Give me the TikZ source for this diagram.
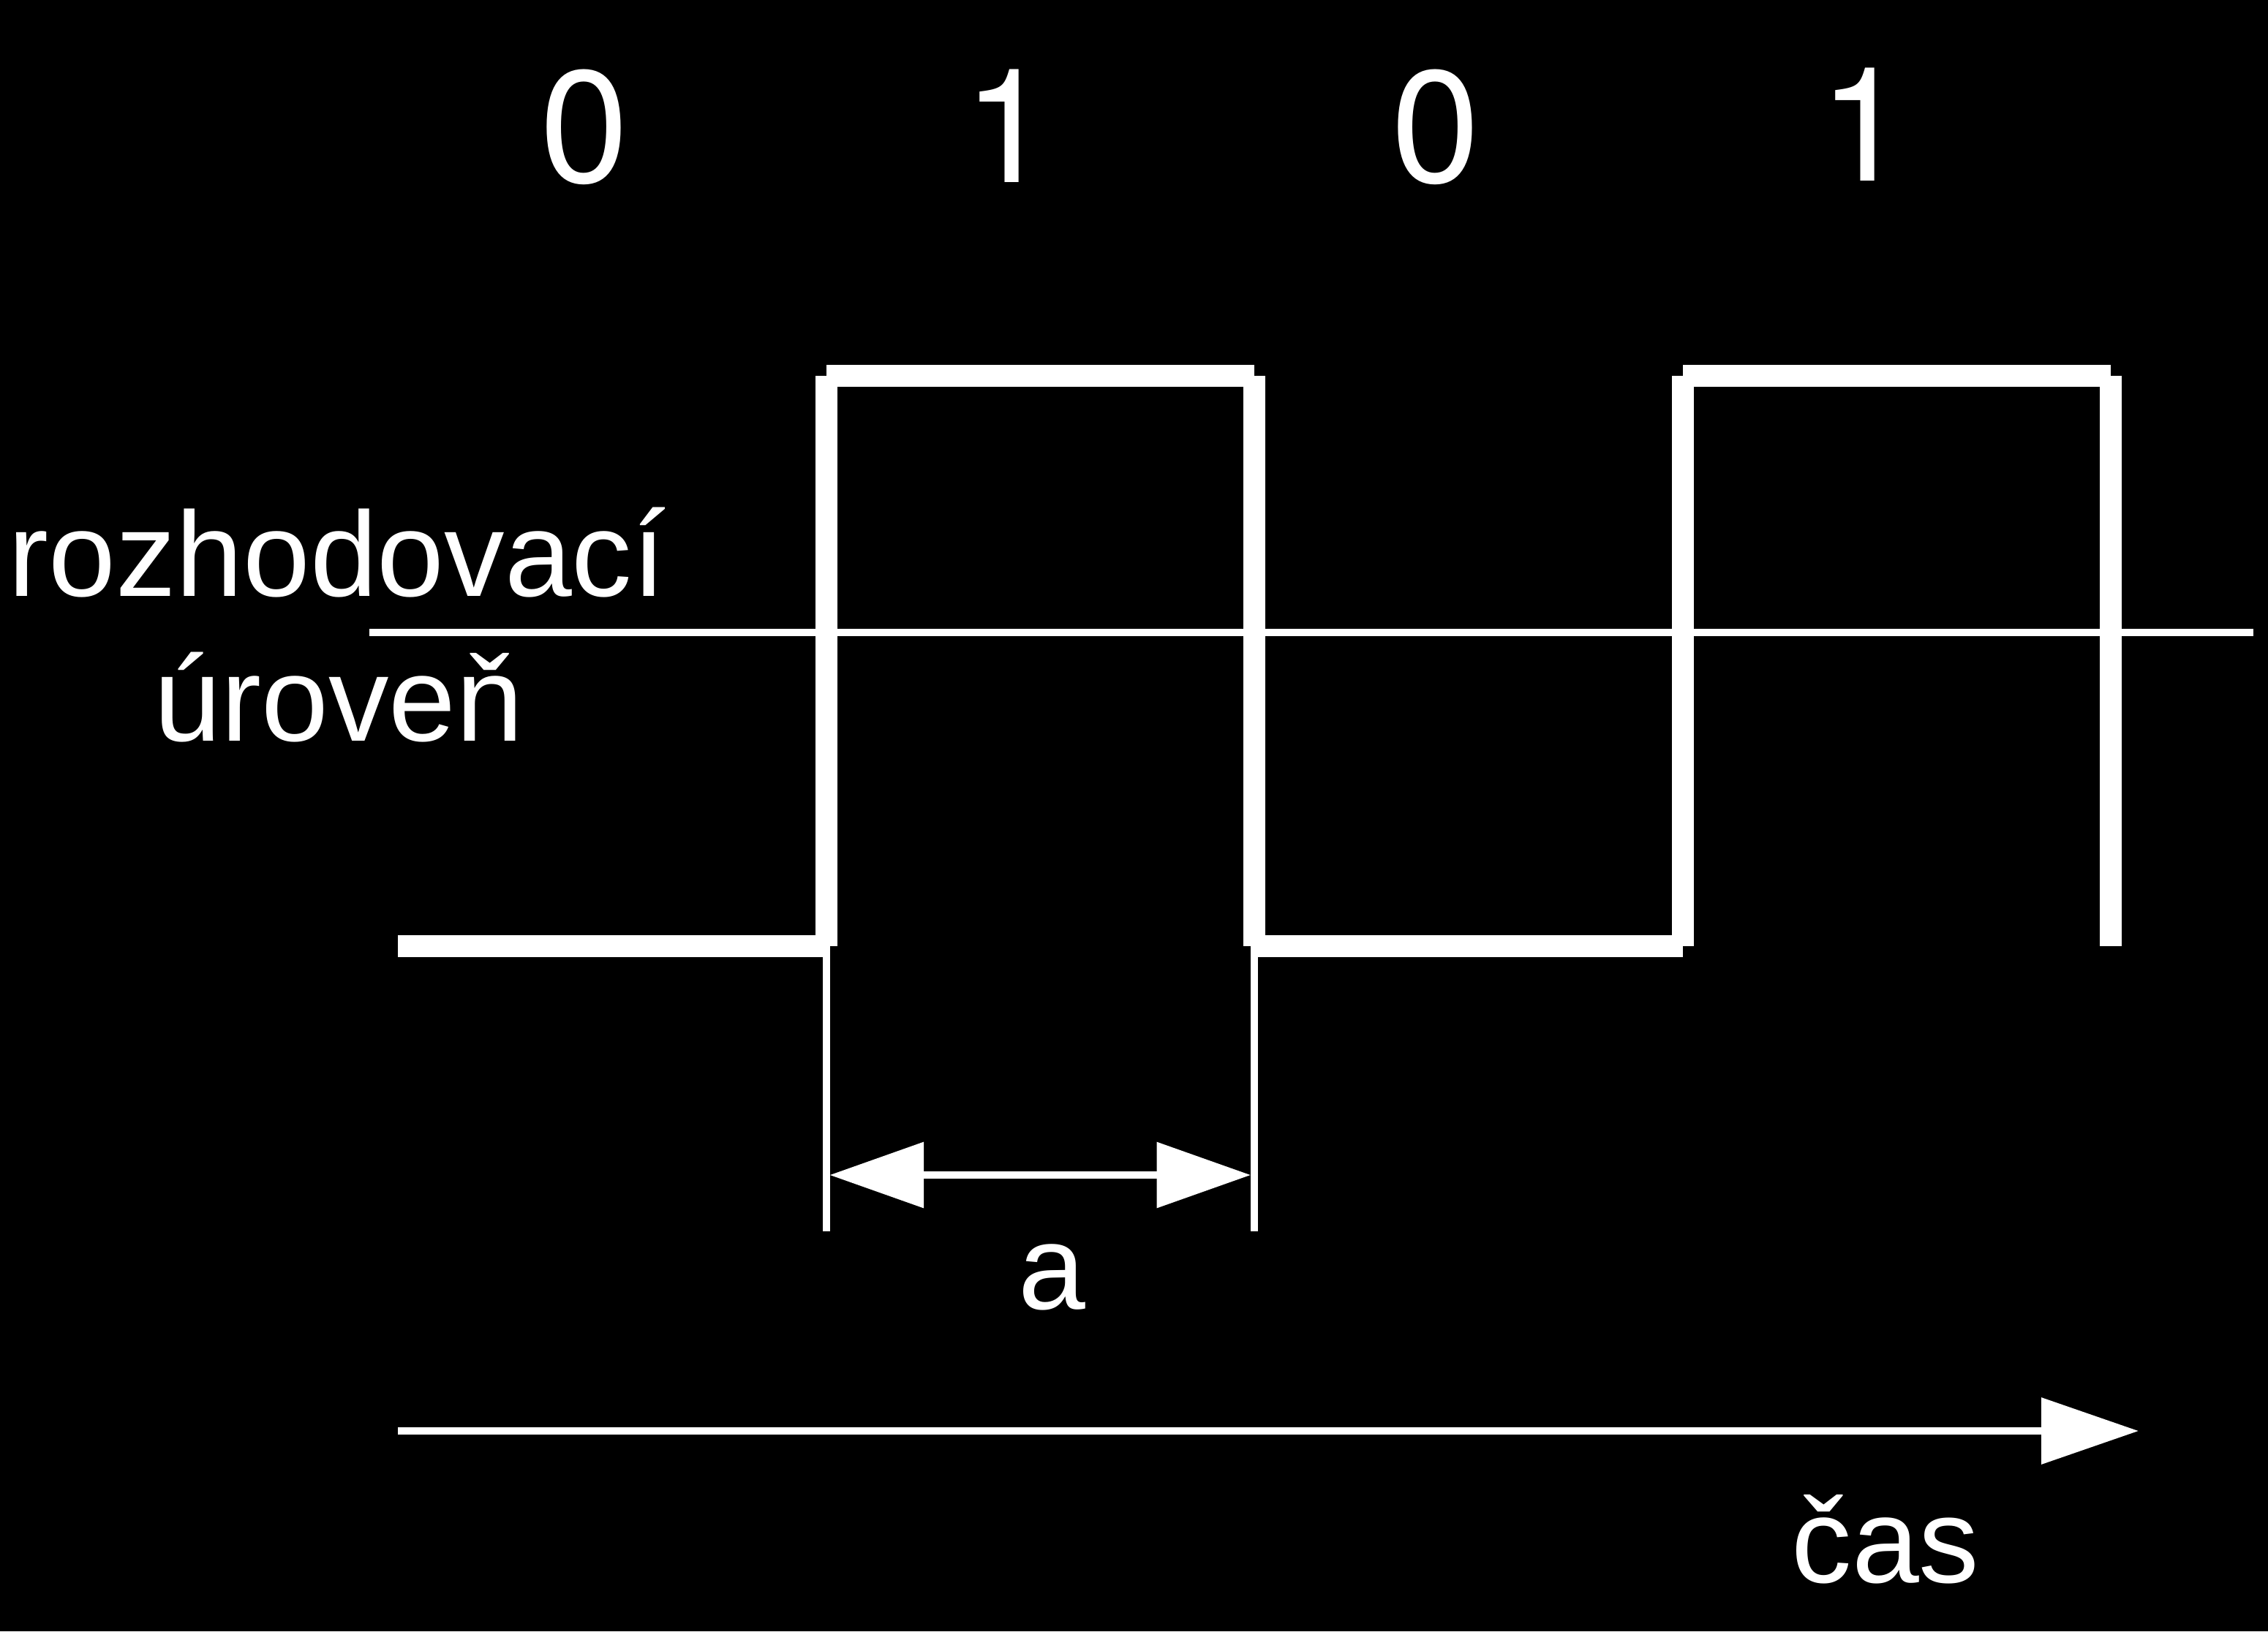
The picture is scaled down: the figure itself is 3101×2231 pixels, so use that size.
\documentclass[tikz,border=0pt]{standalone}
\usepackage{fontspec}
\setmainfont{Liberation Sans}
\newfontfamily\digitfont{TeX Gyre Heros}
\usetikzlibrary{arrows.meta}
\tikzset{
  wave/.style={draw=white, line width=3pt, line cap=butt},
  thin/.style={draw=white, line width=1pt, line cap=butt},
  bigtxt/.style={text=white, inner sep=0pt, anchor=base, font=\digitfont\fontsize{21.8}{26}\selectfont},
  txt/.style={text=white, inner sep=0pt, anchor=base, font=\fontsize{16.5}{19.8}\selectfont},
}
\begin{document}
\begin{tikzpicture}[x=0.1pt,y=-0.1pt]
\fill[black] (0,0) rectangle (3101,2231);
\useasboundingbox (0,0) rectangle (3101,2231);
% bit labels
\node[bigtxt] (b1) at (799,249) {0};
\node[bigtxt] (b2) at (1378,249) {1};
\node[bigtxt] (b3) at (1963,249) {0};
\node[bigtxt] (b4) at (2548,247) {1};
% decision level
\coordinate (lv1) at (505,865);
\coordinate (lv2) at (3081,865);
\draw[thin] (lv1) -- (lv2);
\node[txt] (lvA) at (461,815) {rozhodovací};
\node[txt] (lvB) at (463,1013) {úroveň};
% waveform
\coordinate (w0) at (544,1294);
\coordinate (r1b) at (1130,1294);
\coordinate (r1t) at (1130,514);
\coordinate (f1t) at (1715,514);
\coordinate (f1b) at (1715,1294);
\coordinate (r2b) at (2301,1294);
\coordinate (r2t) at (2301,514);
\coordinate (f2t) at (2886,514);
\coordinate (f2b) at (2886,1294);
\draw[wave] (w0) -- (r1b);
\draw[wave] (r1b) -- (r1t);
\draw[wave] (r1t) -- (f1t);
\draw[wave] (f1t) -- (f1b);
\draw[wave] (f1b) -- (r2b);
\draw[wave] (r2b) -- (r2t);
\draw[wave] (r2t) -- (f2t);
\draw[wave] (f2t) -- (f2b);
% dimension
\coordinate (d1b) at (1130,1684);
\coordinate (d2b) at (1715,1684);
\draw[thin] (r1b) -- (d1b);
\draw[thin] (f1b) -- (d2b);
\coordinate (a1) at (1134.5,1607);
\coordinate (a2) at (1710,1607);
\draw[thin, {Triangle[length=12.85pt,width=8.8pt]}-{Triangle[length=12.85pt,width=8.8pt]}, white] (a1) -- (a2);
\node[txt] (lbla) at (1438,1790) {a};
% time axis
\coordinate (t1) at (544,1957);
\coordinate (t2) at (2924,1957);
\draw[thin, -{Triangle[length=13.3pt,width=8.9pt]}, white] (t1) -- (t2);
\node[txt] (lblt) at (2578,2164) {čas};
\end{tikzpicture}
\end{document}
